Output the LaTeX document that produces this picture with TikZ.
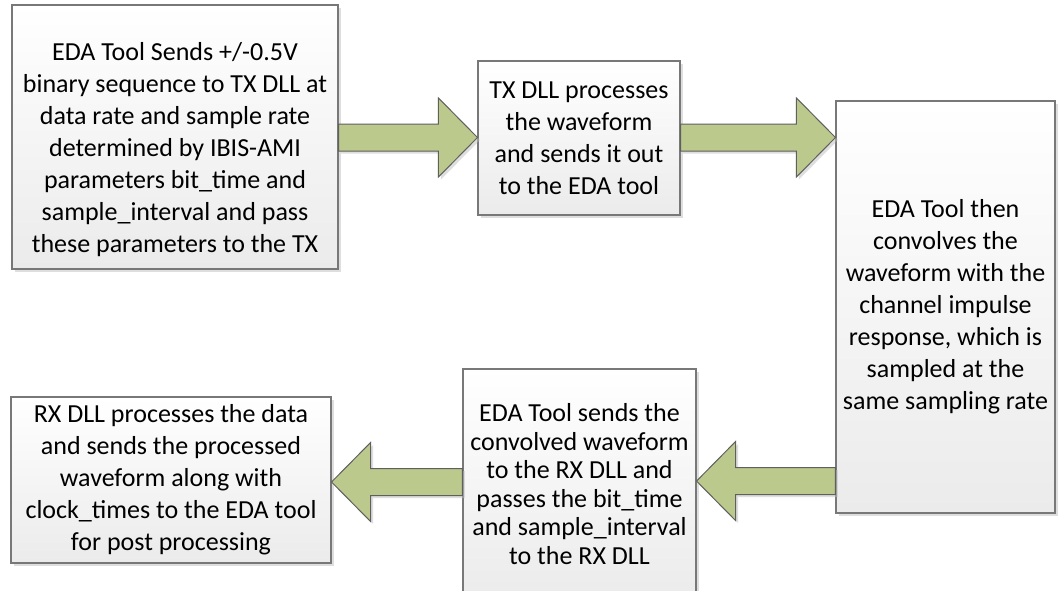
\documentclass[tikz,border=0pt]{standalone}
\usepackage{fontspec}
\setmainfont{Carlito}
\usetikzlibrary{calc,shadows}
\definecolor{arrfill}{RGB}{187,201,141}
\definecolor{arrline}{RGB}{95,95,95}
\definecolor{boxline}{RGB}{120,120,120}
\definecolor{boxbot}{RGB}{235,235,235}
\begin{document}
\begin{tikzpicture}[x=1pt,y=-1pt,
  box/.style={draw=boxline, line width=1.1pt, rectangle, inner sep=0pt,
    top color=white, bottom color=boxbot,
    drop shadow={shadow xshift=2.5pt, shadow yshift=-2.5pt, fill=black!25, opacity=0.5}},
  txt/.style={align=center, inner sep=0pt, font=\fontsize{26}{32}\selectfont},
  fatarr/.style={draw=arrline, line width=1pt, fill=arrfill, line join=miter,
    drop shadow={shadow xshift=2.5pt, shadow yshift=-2.5pt, fill=black!25, opacity=0.5}}]
\useasboundingbox[fill=white] (0,0) rectangle (1058,590);
% boxes
\node[box, minimum width=326pt, minimum height=264pt] (a) at (175,137) {};
\node[box, minimum width=202pt, minimum height=154pt] (b) at (579,138) {};
\node[box, minimum width=219pt, minimum height=412pt] (c) at (945.5,307) {};
\node[box, minimum width=233pt, minimum height=230pt] (e) at (579.5,484) {};
\node[box, minimum width=320pt, minimum height=166pt] (d) at (171,480) {};
% texts
\node[txt] (ta) at ([yshift=-12.5pt]a.center) {EDA Tool Sends +/-0.5V\\binary sequence to TX DLL at\\data rate and sample rate\\determined by IBIS-AMI\\parameters bit\_time and\\sample\_interval and pass\\these parameters to the TX};
\node[txt] (tb) at (b.center) {TX DLL processes\\the waveform\\and sends it out\\to the EDA tool};
\node[txt] (tc) at (c.center) {EDA Tool then\\convolves the\\waveform with the\\channel impulse\\response, which is\\sampled at the\\same sampling rate};
\node[txt] (td) at (d.center) {RX DLL processes the data\\and sends the processed\\waveform along with\\clock\_times to the EDA tool\\for post processing};
\node[txt, font=\fontsize{26}{28.5}\selectfont] (te) at (e.center) {EDA Tool sends the\\convolved waveform\\to the RX DLL and\\passes the bit\_time\\and sample\_interval\\to the RX DLL};
% arrows
\newcommand\fatarrow[3]{% start, tip, direction (+1 right, -1 left)
  \path[fatarr] ($(#1)+(0,-13.5)$) -- ($(#2)+(-39*#3,-13.5)$) -- ($(#2)+(-39*#3,-39.5)$)
    -- (#2) -- ($(#2)+(-39*#3,39.5)$) -- ($(#2)+(-39*#3,13.5)$) -- ($(#1)+(0,13.5)$) -- cycle;}
\coordinate (m1) at ($(a.east)!0.5!(b.west)$);
\coordinate (m3) at ($(c.south west)+(0,-32.5)$);
\coordinate (m4) at ($(d.east)+(0,2)$);
\fatarrow{a.east |- m1}{b.west |- m1}{1}
\fatarrow{b.east |- m1}{c.west |- m1}{1}
\fatarrow{c.west |- m3}{e.east |- m3}{-1}
\fatarrow{e.west |- m4}{d.east |- m4}{-1}
\end{tikzpicture}
\end{document}
